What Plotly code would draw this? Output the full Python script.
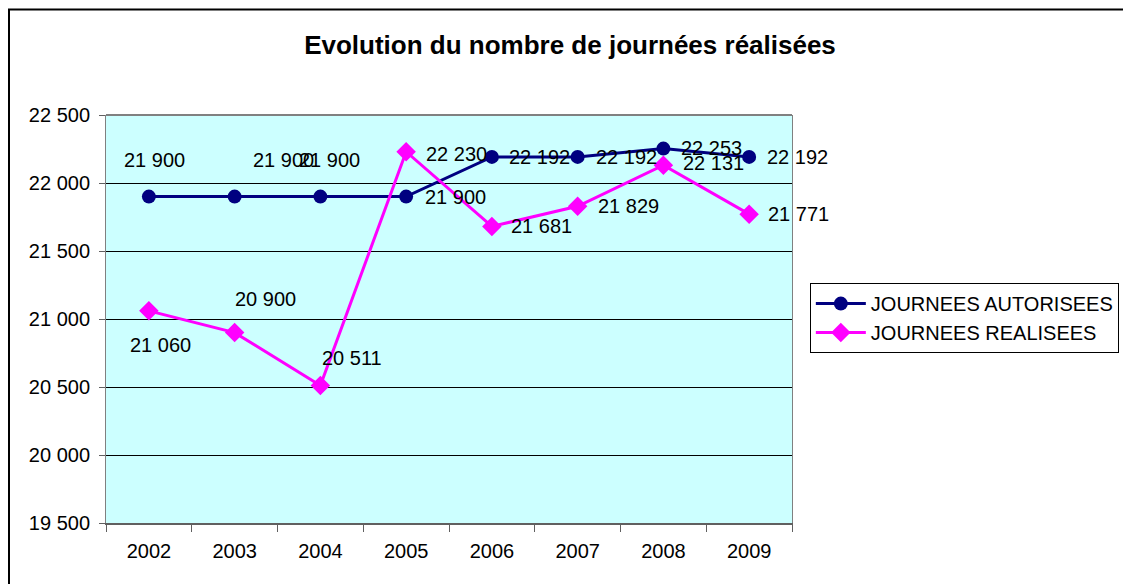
import plotly.graph_objects as go

years = ["2002", "2003", "2004", "2005", "2006", "2007", "2008", "2009"]
autorisees = [21900, 21900, 21900, 21900, 22192, 22192, 22253, 22192]
realisees = [21060, 20900, 20511, 22230, 21681, 21829, 22131, 21771]
y_ticks = [19500, 20000, 20500, 21000, 21500, 22000, 22500]

# label placement (xanchor, xshift, yshift) per point
lab_aut = [("center", 6, 37), ("left", 16, 37), ("left", -23, 37), ("left", 17, 0),
           ("left", 15, 0), ("left", 16, 0), ("left", 16, 1), ("left", 16, 0)]
lab_rea = [("left", -21, -34), ("left", -2, 34), ("left", 0, 28), ("left", 18, -2),
           ("left", 17, 0), ("left", 18, 0), ("left", 18, 2), ("left", 17, 0)]

FONT = "Liberation Sans, Arial, sans-serif"
NAVY = "#000080"
MAG = "#FF00FF"
FS = 20


def fmt(v):
    return f"{v:,}".replace(",", " ")


fig = go.Figure()
fig.add_trace(go.Scatter(
    x=years, y=autorisees, name="JOURNEES AUTORISEES",
    mode="lines+markers",
    line=dict(color=NAVY, width=3),
    marker=dict(symbol="circle", size=14, color=NAVY),
))
fig.add_trace(go.Scatter(
    x=years, y=realisees, name="JOURNEES REALISEES", mode="lines+markers",
    line=dict(color=MAG, width=3),
    marker=dict(symbol="diamond", size=15, color=MAG),
))

annotations = []
for series, labs in ((autorisees, lab_aut), (realisees, lab_rea)):
    for i, (v, (xa, xs, ys)) in enumerate(zip(series, labs)):
        annotations.append(dict(
            x=i, y=v, xref="x", yref="y", text=fmt(v), showarrow=False,
            xanchor=xa, yanchor="middle", xshift=xs, yshift=ys,
            font=dict(family=FONT, size=FS, color="black"),
        ))

W, H = 1123, 576
fig.update_layout(
    width=W, height=H,
    margin=dict(l=98, r=339, t=107, b=61, autoexpand=False),
    paper_bgcolor="white", plot_bgcolor="#CCFFFF",
    separators=", ",
    title=dict(text="<b>Evolution du nombre de journées réalisées</b>",
               x=562 / W, xanchor="center", y=1 - 37 / H, yanchor="middle",
               yref="container",
               font=dict(family=FONT, size=26, color="black")),
    font=dict(family=FONT, size=FS, color="black"),
    showlegend=True,
    legend=dict(x=1.026, xanchor="left", y=0.588, yanchor="top",
                bordercolor="black", borderwidth=1, bgcolor="white",
                font=dict(family=FONT, size=FS, color="black"),
                tracegroupgap=0, itemwidth=50),
    annotations=annotations,
    shapes=[dict(type="rect", xref="paper", yref="paper",
                 x0=(9 - 106) / 686, x1=(1140 - 106) / 686,
                 y0=(523 - 600) / 408, y1=(523 - 9.5) / 408,
                 line=dict(color="black", width=2), layer="below")],
)

fig.update_xaxes(
    type="category", categoryorder="array", categoryarray=years,
    range=[-0.5, len(years) - 0.5], tickangle=0, automargin=False,
    showgrid=False, showline=True, linecolor="#606060", linewidth=2,
    mirror=False, ticks="outside", tickson="boundaries", ticklen=7,
    tickcolor="#606060", tickfont=dict(family=FONT, size=FS, color="black"),
    ticklabelstandoff=9,
    zeroline=False,
)
fig.update_yaxes(
    range=[19500, 22500], tickvals=y_ticks, tickformat=",d", automargin=False,
    showgrid=True, gridcolor="black", gridwidth=1,
    showline=True, linecolor="#808080", linewidth=1, mirror=True,
    ticks="outside", ticklen=6, tickcolor="#606060",
    tickfont=dict(family=FONT, size=FS, color="black"),
    ticklabelstandoff=5,
    zeroline=False,
)
# top border of the plot area (gray)
fig.add_shape(type="line", xref="paper", yref="paper", x0=0, x1=1, y0=1, y1=1,
              line=dict(color="#808080", width=2))

fig.write_html("out.html")
